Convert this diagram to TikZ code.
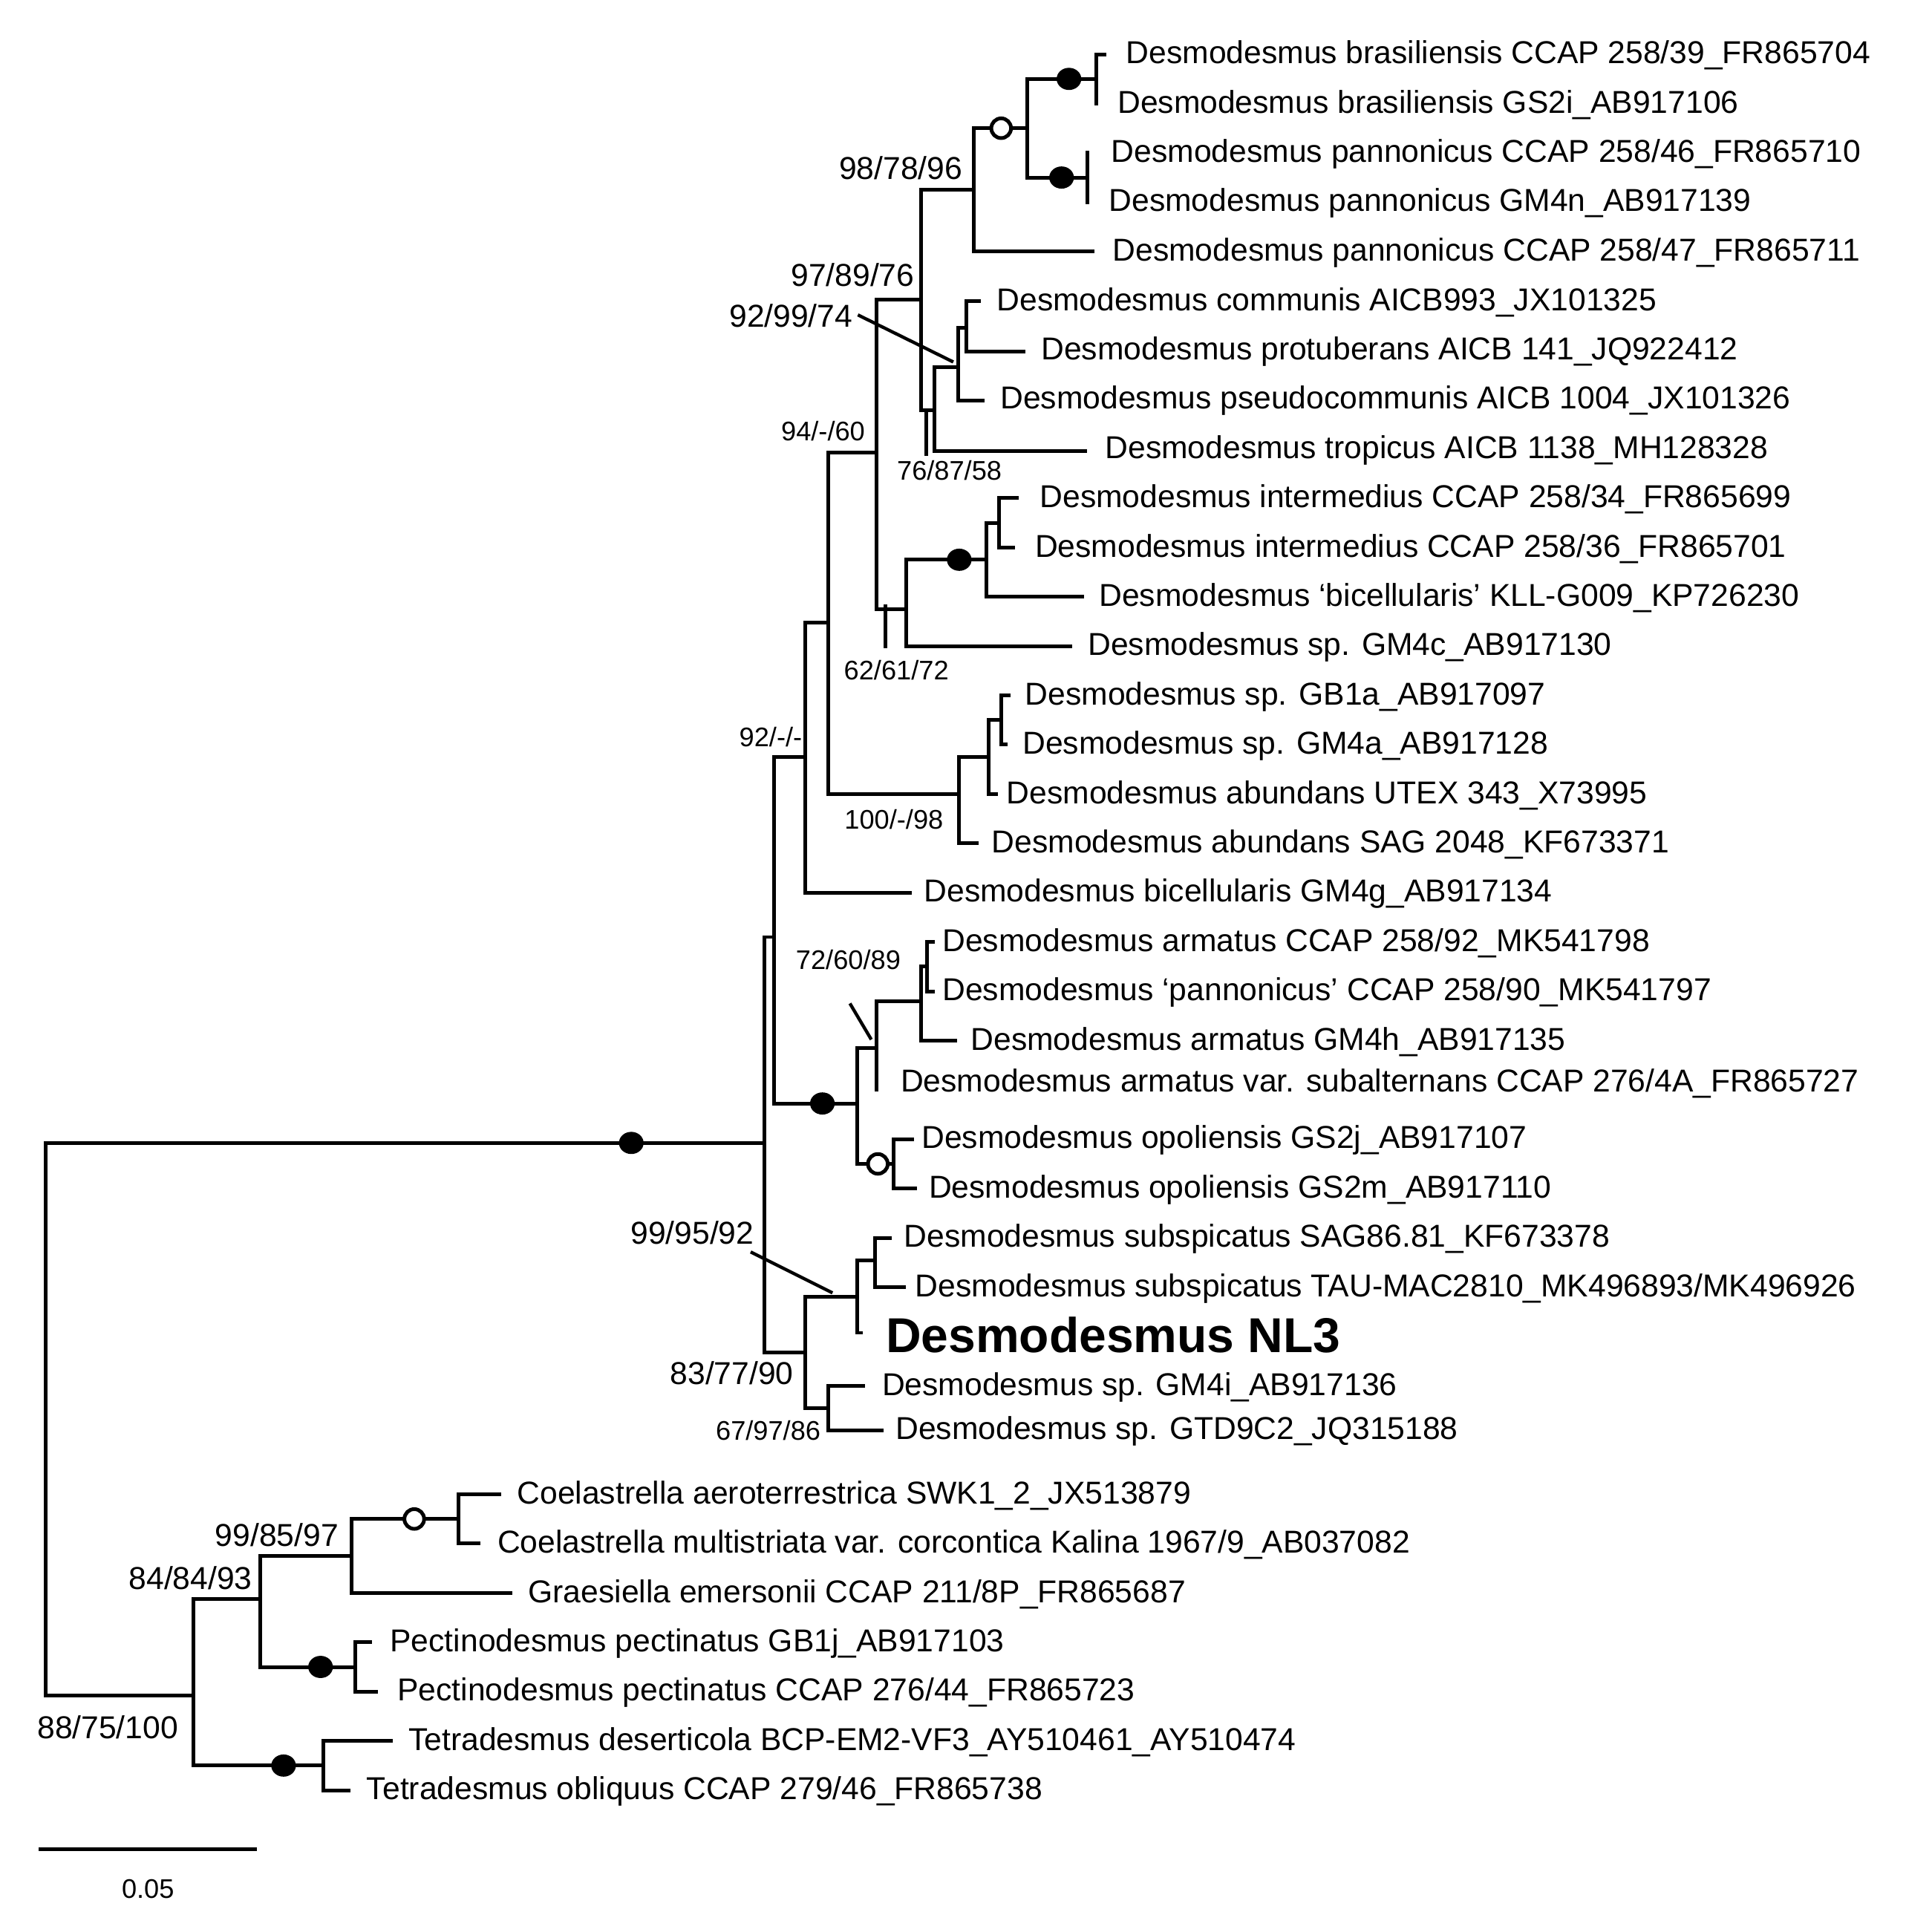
\documentclass[tikz,border=0pt]{standalone}
\usepackage{fontspec}
\setmainfont{Liberation Sans}
\begin{document}
\begin{tikzpicture}[x=0.01cm,y=-0.01cm,line width=0.85pt,line cap=rect,
  tx/.style={anchor=west,inner sep=0pt,font=\fontsize{7.3}{8}\selectfont},
  bs/.style={inner sep=0pt,font=\fontsize{7.3}{8}\selectfont},
  bss/.style={inner sep=0pt,font=\fontsize{6.2}{7}\selectfont},
  fd/.style={fill=black,draw=none},
  od/.style={fill=white,draw=black,line width=0.85pt}]
\useasboundingbox (0,0) rectangle (1567,1567);
% ---------- taxa ----------
\node[tx] (t1) at (912,45) {Desmodesmus brasiliensis CCAP 258/39\_FR865704};
\node[tx] (t2) at (905,85) {Desmodesmus brasiliensis GS2i\_AB917106};
\node[tx] (t3) at (900,125) {Desmodesmus pannonicus CCAP 258/46\_FR865710};
\node[tx] (t4) at (898,165) {Desmodesmus pannonicus GM4n\_AB917139};
\node[tx] (t5) at (901,205) {Desmodesmus pannonicus CCAP 258/47\_FR865711};
\node[tx] (t6) at (807,245) {Desmodesmus communis AICB993\_JX101325};
\node[tx] (t7) at (843,285) {Desmodesmus protuberans AICB 141\_JQ922412};
\node[tx] (t8) at (810,325) {Desmodesmus pseudocommunis AICB 1004\_JX101326};
\node[tx] (t9) at (895,365) {Desmodesmus tropicus AICB 1138\_MH128328};
\node[tx] (t10) at (842,405) {Desmodesmus intermedius CCAP 258/34\_FR865699};
\node[tx] (t11) at (838,445) {Desmodesmus intermedius CCAP 258/36\_FR865701};
\node[tx] (t12) at (890,485) {Desmodesmus ‘bicellularis’ KLL-G009\_KP726230};
\node[tx] (t13) at (881,525) {Desmodesmus sp. GM4c\_AB917130};
\node[tx] (t14) at (830,565) {Desmodesmus sp. GB1a\_AB917097};
\node[tx] (t15) at (828,605) {Desmodesmus sp. GM4a\_AB917128};
\node[tx] (t16) at (815,645) {Desmodesmus abundans UTEX 343\_X73995};
\node[tx] (t17) at (803,685) {Desmodesmus abundans SAG 2048\_KF673371};
\node[tx] (t18) at (748,725) {Desmodesmus bicellularis GM4g\_AB917134};
\node[tx] (t19) at (763,765) {Desmodesmus armatus CCAP 258/92\_MK541798};
\node[tx] (t20) at (763,805) {Desmodesmus ‘pannonicus’ CCAP 258/90\_MK541797};
\node[tx] (t21) at (786,845) {Desmodesmus armatus GM4h\_AB917135};
\node[tx] (t22) at (729,879) {Desmodesmus armatus var. subalternans CCAP 276/4A\_FR865727};
\node[tx] (t23) at (746,925) {Desmodesmus opoliensis GS2j\_AB917107};
\node[tx] (t24) at (752,965) {Desmodesmus opoliensis GS2m\_AB917110};
\node[tx] (t25) at (732,1005) {Desmodesmus subspicatus SAG86.81\_KF673378};
\node[tx] (t26) at (741,1045) {Desmodesmus subspicatus TAU-MAC2810\_MK496893/MK496926};
\node[tx,font=\fontsize{11.3}{13}\selectfont\bfseries] (t27) at (717,1083) {Desmodesmus NL3};
\node[tx] (t28) at (714,1125) {Desmodesmus sp. GM4i\_AB917136};
\node[tx] (t29) at (725,1161) {Desmodesmus sp. GTD9C2\_JQ315188};
\node[tx] (o1) at (418,1213) {Coelastrella aeroterrestrica SWK1\_2\_JX513879};
\node[tx] (o2) at (402,1253) {Coelastrella multistriata var. corcontica Kalina 1967/9\_AB037082};
\node[tx] (o3) at (427,1293) {Graesiella emersonii CCAP 211/8P\_FR865687};
\node[tx] (o4) at (315,1333) {Pectinodesmus pectinatus GB1j\_AB917103};
\node[tx] (o5) at (321,1373) {Pectinodesmus pectinatus CCAP 276/44\_FR865723};
\node[tx] (o6) at (330,1413) {Tetradesmus deserticola BCP-EM2-VF3\_AY510461\_AY510474};
\node[tx] (o7) at (296,1453) {Tetradesmus obliquus CCAP 279/46\_FR865738};
% ---------- root ----------
\draw (620,927) -- (37,927) -- (37,1375) -- (157,1375);
\fill[fd] (512,927) ellipse (10 and 9);
% ---------- Desmodesmus ----------
\draw (628,760) -- (620,760) -- (620,1097) -- (653,1097);
\draw (628,614) -- (628,760);
\draw (628,760) -- (628,895) -- (695,895);
\fill[fd] (667,895) ellipse (10 and 9);
% node C
\draw (672,505) -- (653,505) -- (653,724) -- (738,724);
\draw (628,614) -- (653,614);
% 94/-/60
\draw (711,367) -- (672,367) -- (672,644) -- (778,644);
% 97/89/76 node
\draw (747,243) -- (711,243) -- (711,494) -- (735,494);
% 98/78/96
\draw (747,154) -- (747,333) -- (758,333);
\draw (747,154) -- (790,154);
\draw (790,104) -- (790,204) -- (886,204);
\draw (790,104) -- (833,104);
\draw[od] (812,104) circle (8);
\draw (833,64) -- (833,144);
\draw (833,64) -- (889,64); \fill[fd] (867,64) ellipse (10 and 9);
\draw (833,144) -- (882,144); \fill[fd] (861,144) ellipse (10 and 9);
\draw (896,44) -- (889,44) -- (889,84);
\draw (882,124) -- (882,164);
% 76/87/58
\draw (758,298) -- (758,366) -- (880,366);
\draw (758,298) -- (777,298);
\draw (777,266) -- (777,325) -- (797,325);
\draw (777,266) -- (784,266);
\draw (794,244) -- (784,244) -- (784,285) -- (830,285);
% 62/61/72 clade
\draw (735,454) -- (735,524) -- (868,524);
\draw (735,454) -- (800,454);
\fill[fd] (778,454) ellipse (10 and 9);
\draw (800,424) -- (800,484) -- (878,484);
\draw (800,424) -- (810,424);
\draw (825,404) -- (810,404) -- (810,444) -- (822,444);
% 100/-/98
\draw (778,614) -- (778,684) -- (792,684);
\draw (778,614) -- (802,614);
\draw (802,584) -- (802,644) -- (808,644);
\draw (802,584) -- (812,584);
\draw (818,564) -- (812,564) -- (812,604) -- (816,604);
% armatus clade
\draw (695,850) -- (695,944) -- (725,944);
\draw[od] (712,944) circle (8);
\draw (695,850) -- (711,850);
\draw (711,812) -- (711,884);
\draw (711,812) -- (747,812);
\draw (747,784) -- (747,844) -- (775,844);
\draw (747,784) -- (752,784);
\draw (757,764) -- (752,764) -- (752,804) -- (757,804);
\draw (740,924) -- (725,924) -- (725,964) -- (742,964);
% 83/77/90
\draw (653,1052) -- (653,1142) -- (672,1142);
\draw (653,1052) -- (695,1052);
\draw (695,1022) -- (695,1081) -- (698,1081);
\draw (695,1022) -- (710,1022);
\draw (722,1004) -- (710,1004) -- (710,1044) -- (733,1044);
\draw (700,1124) -- (672,1124) -- (672,1160) -- (715,1160);
% ---------- outgroup ----------
\draw (157,1297) -- (157,1432) -- (262,1432);
\fill[fd] (230,1432) ellipse (10 and 9);
\draw (317,1412) -- (262,1412) -- (262,1452) -- (283,1452);
\draw (157,1297) -- (211,1297);
\draw (211,1262) -- (211,1352) -- (288,1352);
\fill[fd] (260,1352) ellipse (10 and 9);
\draw (300,1332) -- (288,1332) -- (288,1372) -- (305,1372);
\draw (211,1262) -- (285,1262);
\draw (285,1232) -- (285,1292) -- (414,1292);
\draw (285,1232) -- (372,1232);
\draw[od] (336,1232) circle (8);
\draw (405,1212) -- (372,1212) -- (372,1252) -- (388,1252);
% ---------- support labels ----------
\node[bs,anchor=south east] (l1) at (782,147) {98/78/96};
\node[bs,anchor=south east] (l2) at (743,234) {97/89/76};
\node[bs,anchor=east] (l3) at (693,256) {92/99/74};
\draw[line width=0.75pt] (697,256) -- (772,293);
\draw (751,336) -- (751,368);
\node[bss,anchor=north] (l4) at (770,372) {76/87/58};
\node[bss,anchor=south east] (l5) at (703,359) {94/-/60};
\draw (718,492) -- (718,524);
\node[bss,anchor=north] (l6) at (727,534) {62/61/72};
\node[bss,anchor=north] (l7) at (725,655) {100/-/98};
\node[bss,anchor=south east] (l8) at (652,607) {92/-/-};
\node[bss,anchor=south] (l9) at (688,788) {72/60/89};
\draw[line width=0.75pt] (690,815) -- (706,842);
\node[bs,anchor=east] (l10) at (613,1000) {99/95/92};
\draw[line width=0.75pt] (610,1016) -- (674,1048);
\node[bs,anchor=north east] (l11) at (645,1103) {83/77/90};
\node[bss,anchor=east] (l12) at (667,1160) {67/97/86};
\node[bs,anchor=south east] (l13) at (276,1256) {99/85/97};
\node[bs,anchor=south east] (l14) at (206,1291) {84/84/93};
\node[bs,anchor=north east] (l15) at (146,1390) {88/75/100};
% ---------- scale ----------
\draw (33,1500) -- (207,1500);
\node[bss,anchor=north] (sc) at (120,1523) {0.05};
\end{tikzpicture}
\end{document}
